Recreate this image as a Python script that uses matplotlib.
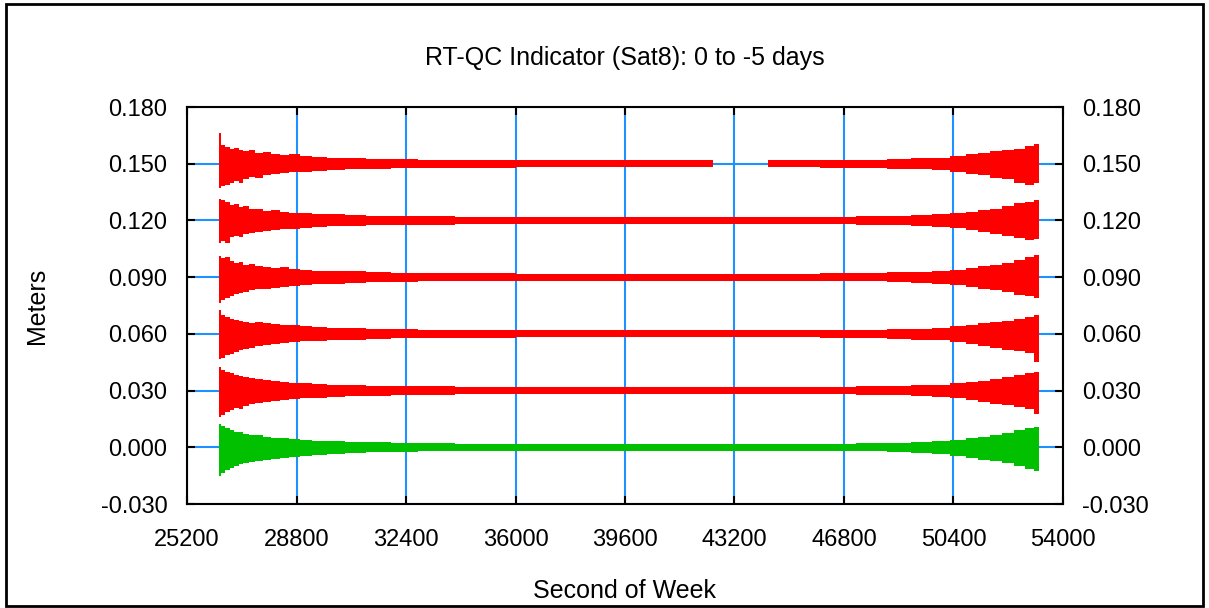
import numpy as np
import matplotlib
matplotlib.use('Agg')
import matplotlib.pyplot as plt
from matplotlib.patches import Rectangle

plt.rcParams['font.family'] = ['Liberation Sans', 'DejaVu Sans']

nan = np.nan
# 采样时刻 (second of week)
sow = [26250, 26330, 26450, 26600, 26750, 26900, 27050, 27250, 27450, 27700,
       27950, 28250, 28550, 28900, 29300, 29800, 30400, 31100, 31900, 32800,
       34000, 36000, 38000, 40000, 42490, 43400, 44300, 46000, 47200, 48200,
       49000, 49700, 50300, 50800, 51200, 51600, 52000, 52400, 52750, 53050, 53220]

# 各条带的中心值 (m)
levels = [0.150, 0.120, 0.090, 0.060, 0.030, 0.000]
colors = ['#ff0000', '#ff0000', '#ff0000', '#ff0000', '#ff0000', '#00c000']

# 上下包络 (mm)
s150_hi = [16.0, 10.0, 9.0, 8.0, 8.5, 7.0, 6.5, 7.0, 5.5, 6.0, 5.0, 4.5, 5.0, 4.0, 3.5, 3.2, 3.0, 2.6, 2.4, 2.2,
           2.0, 1.8, 1.8, 1.8, 1.8, nan, 1.8, 2.0, 2.2, 2.6, 2.8, 3.2, 4.0, 5.0, 5.5, 6.5, 7.0, 8.0, 9.5, 10.5, 9.0]
s150_lo = [13.0, 12.0, 11.0, 10.0, 9.0, 10.0, 8.0, 7.0, 7.5, 6.0, 5.5, 5.0, 4.5, 4.5, 4.0, 3.5, 3.0, 2.8, 2.5, 2.3,
           2.0, 1.8, 1.8, 1.8, 1.8, nan, 1.8, 2.0, 2.2, 2.6, 3.0, 3.5, 4.5, 5.5, 6.0, 7.5, 8.0, 10.0, 11.0, 10.0, 10.0]
s120_hi = [11.5, 11.0, 9.5, 8.0, 8.5, 7.0, 7.5, 6.0, 6.0, 5.0, 5.5, 4.5, 4.0, 4.0, 3.5, 3.2, 2.8, 2.6, 2.4, 2.2,
           2.0, 1.8, 1.8, 1.8, 1.8, 1.8, 1.8, 2.0, 2.2, 2.4, 2.8, 3.2, 4.0, 4.5, 5.5, 6.0, 7.5, 9.0, 10.0, 11.0, 9.5]
s120_lo = [12.0, 11.0, 12.0, 9.0, 8.0, 8.5, 7.0, 6.5, 6.0, 5.5, 5.0, 4.5, 4.5, 4.0, 3.5, 3.2, 2.8, 2.6, 2.4, 2.2,
           2.0, 1.8, 1.8, 1.8, 1.8, 1.8, 1.8, 2.0, 2.2, 2.6, 3.0, 3.5, 4.0, 5.0, 6.0, 7.0, 8.0, 9.5, 10.5, 10.0, 9.5]
s090_hi = [11.0, 10.0, 10.5, 8.5, 7.5, 8.0, 6.5, 7.0, 6.0, 5.5, 5.0, 5.5, 4.5, 4.0, 3.5, 3.5, 3.0, 2.7, 2.4, 2.2,
           2.0, 1.8, 1.8, 1.8, 1.8, 1.8, 1.8, 2.0, 2.2, 2.5, 2.8, 3.5, 4.0, 5.0, 6.0, 6.5, 7.5, 9.0, 10.5, 11.5, 11.0]
s090_lo = [13.5, 12.0, 11.0, 10.0, 9.0, 8.5, 8.0, 7.0, 6.5, 6.0, 5.5, 5.0, 4.5, 4.0, 3.8, 3.4, 3.0, 2.7, 2.4, 2.2,
           2.0, 1.8, 1.8, 1.8, 1.8, 1.8, 1.8, 2.0, 2.2, 2.5, 3.0, 3.5, 4.0, 5.0, 6.0, 7.0, 8.0, 9.5, 10.0, 11.0, 10.5]
s060_hi = [12.5, 10.0, 9.0, 8.0, 7.5, 7.0, 6.5, 6.0, 6.5, 5.5, 5.0, 4.5, 4.5, 4.0, 3.5, 3.2, 3.0, 2.7, 2.4, 2.2,
           2.0, 1.8, 1.8, 1.8, 1.8, 1.8, 1.8, 2.0, 2.2, 2.5, 2.8, 3.2, 4.0, 4.5, 5.5, 6.5, 7.0, 8.0, 9.0, 10.0, 9.0]
s060_lo = [13.5, 12.5, 11.0, 10.5, 9.5, 8.5, 8.0, 7.5, 6.5, 6.0, 5.5, 5.0, 4.5, 4.0, 3.8, 3.4, 3.0, 2.7, 2.4, 2.2,
           2.0, 1.8, 1.8, 1.8, 1.8, 1.8, 1.8, 2.0, 2.2, 2.5, 3.0, 3.5, 4.5, 5.5, 6.5, 7.5, 8.5, 9.0, 10.0, 15.0, 11.0]
s030_hi = [12.5, 11.0, 10.0, 9.5, 8.0, 7.5, 7.0, 6.5, 6.0, 5.5, 5.0, 4.5, 4.0, 4.0, 3.5, 3.2, 2.8, 2.6, 2.4, 2.2,
           2.0, 1.8, 1.8, 1.8, 1.8, 1.8, 1.8, 2.0, 2.2, 2.5, 2.8, 3.2, 4.0, 4.5, 5.0, 6.0, 7.0, 8.0, 9.5, 10.0, 9.0]
s030_lo = [14.0, 13.0, 11.5, 10.0, 9.0, 9.5, 8.0, 7.0, 6.5, 6.0, 5.5, 5.0, 4.5, 4.0, 3.8, 3.4, 3.0, 2.7, 2.4, 2.2,
           2.0, 1.8, 1.8, 1.8, 1.8, 1.8, 1.8, 2.0, 2.2, 2.5, 3.0, 3.5, 4.0, 5.0, 6.0, 7.0, 7.5, 8.5, 9.5, 12.3, 10.0]
s000_hi = [12.5, 11.5, 10.0, 9.0, 8.0, 8.0, 7.0, 6.5, 6.5, 5.5, 5.0, 5.0, 4.5, 4.0, 3.5, 3.2, 3.0, 2.7, 2.4, 2.2,
           2.0, 1.9, 1.9, 1.9, 1.9, 1.9, 1.9, 2.0, 2.2, 2.5, 2.8, 3.2, 4.0, 5.0, 5.5, 6.5, 7.5, 9.0, 10.0, 10.5, 10.0]
s000_lo = [15.0, 13.5, 12.0, 11.0, 10.0, 9.0, 8.5, 8.0, 7.0, 6.5, 6.0, 5.5, 5.0, 4.5, 4.0, 3.5, 3.0, 2.7, 2.4, 2.2,
           2.0, 1.9, 1.9, 1.9, 1.9, 1.9, 1.9, 2.0, 2.2, 2.5, 3.0, 3.5, 4.5, 5.5, 6.5, 7.5, 8.5, 10.0, 11.5, 12.5, 11.0]

upper = [s150_hi, s120_hi, s090_hi, s060_hi, s030_hi, s000_hi]
lower = [s150_lo, s120_lo, s090_lo, s060_lo, s030_lo, s000_lo]

xticks = [25200, 28800, 32400, 36000, 39600, 43200, 46800, 50400, 54000]
yticks = [-0.030, 0.000, 0.030, 0.060, 0.090, 0.120, 0.150, 0.180]

fig = plt.figure(figsize=(12.09, 6.08), dpi=100)
ax = fig.add_axes([0.1547, 0.171, 0.7245, 0.653])

x = np.array(sow, dtype=float)
for lev, c, hi, lo in zip(levels, colors, upper, lower):
    hi = np.array(hi) / 1000.0
    lo = np.array(lo) / 1000.0
    ax.fill_between(x, lev - lo, lev + hi, step='post', color=c, lw=0, zorder=3)

ax.set_xlim(25200, 54000)
ax.set_ylim(-0.030, 0.180)
ax.set_xticks(xticks)
ax.set_yticks(yticks)
ax.set_xticklabels([str(t) for t in xticks])
ax.set_yticklabels(['%.3f' % t for t in yticks])
ax.grid(True, color='#1e90ff', lw=1.5, zorder=1)
ax.set_axisbelow(True)

ax.tick_params(direction='in', length=6, width=1.5, color='black', labelsize=17,
               top=True, right=True, labelright=True)
ax.tick_params(axis='y', pad=14)
ax.tick_params(axis='x', pad=18)
for sp in ax.spines.values():
    sp.set_linewidth(1.5)
    sp.set_zorder(5)

ax.set_title('RT-QC Indicator (Sat8): 0 to -5 days', fontsize=18, pad=30)
ax.set_xlabel('Second of Week', fontsize=18, labelpad=20)
ax.set_ylabel('Meters', fontsize=18, labelpad=37)

# 外框
fig.patches.append(Rectangle((0.005, 0.004), 0.99, 0.99, transform=fig.transFigure,
                             fill=False, edgecolor='black', lw=2))

plt.savefig('out.png', dpi=100)
